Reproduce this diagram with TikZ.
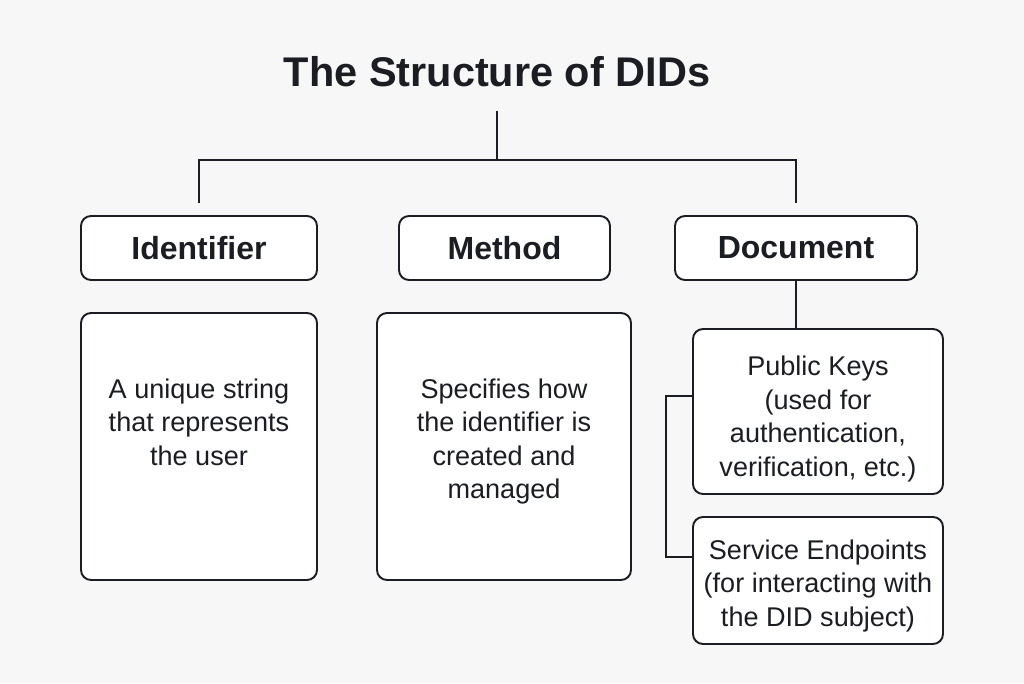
\documentclass[tikz,border=0pt]{standalone}
\usepackage{fontspec}
\setmainfont{Liberation Sans}
\usetikzlibrary{positioning}

\newdimen\pxu \pxu=0.2mm
\definecolor{ink}{HTML}{1B1D22}
\definecolor{paper}{HTML}{F7F7F7}

\tikzset{
  link/.style={draw=ink, line width=1.1pt},
  headbox/.style={draw=ink, line width=1.1pt, rounded corners=2mm, fill=white,
    minimum height=64\pxu, text=ink, font=\fontsize{18.2pt}{22pt}\selectfont\bfseries},
  descbox/.style={draw=ink, line width=1.1pt, rounded corners=2mm, fill=white},
  desctext/.style={align=center, inner sep=0pt, text=ink,
    font=\fontsize{15.4pt}{19.1pt}\selectfont},
}

\begin{document}
\begin{tikzpicture}[x=0.2mm, y=-0.2mm]
    \fill[paper] (0,0) rectangle (1024,683);
    \useasboundingbox (0,0) rectangle (1024,683);
    % title and top row
    \node[anchor=base, text=ink, font=\fontsize{23.6pt}{28pt}\selectfont\bfseries] (title) at (497,86) {The Structure of DIDs};
    \coordinate (hub) at (497,160);
    \node[headbox, minimum width=236\pxu] (idh) at (199,248) {Identifier};
    \node[headbox, minimum width=211\pxu] (meh) at (504.5,248) {Method};
    \node[headbox, minimum width=242\pxu] (doch) at (796,248) {Document};
    % descriptions
    \node[descbox, minimum width=236\pxu, minimum height=267\pxu] (idd) at (199,446.5) {};
    \node[descbox, minimum width=254\pxu, minimum height=267\pxu] (med) at (504,446.5) {};
    \node[desctext, below=13.2mm of idd.north] (idt) {A unique string\\that represents\\the user};
    \node[desctext, below=13.2mm of med.north] (met) {Specifies how\\the identifier is\\created and\\managed};
    \node[descbox, minimum width=250\pxu, minimum height=165\pxu] (pk) at (818,411.5) {};
    \node[descbox, minimum width=250\pxu, minimum height=127\pxu] (se) at (818,580.5) {};
    \node[desctext] (pkt) at ([yshift=-4.3pt]pk.center) {Public Keys\\(used for\\authentication,\\verification, etc.)};
    \node[desctext] (set) at ([yshift=-3.1pt]se.center) {Service Endpoints\\(for interacting with\\the DID subject)};
    % connectors
    \draw[link] ([yshift=-14.2pt]title.base) -- (hub);
    \draw[link] ([yshift=6.8pt]idh.north) |- (hub) -| ([yshift=6.8pt]doch.north);
    \draw[link] (doch.south) -- (doch.south |- pk.north);
    \draw[link] ([yshift=8.8pt]pk.west) -- ++(-26,0) |- ([yshift=13.4pt]se.west);
\end{tikzpicture}
\end{document}
